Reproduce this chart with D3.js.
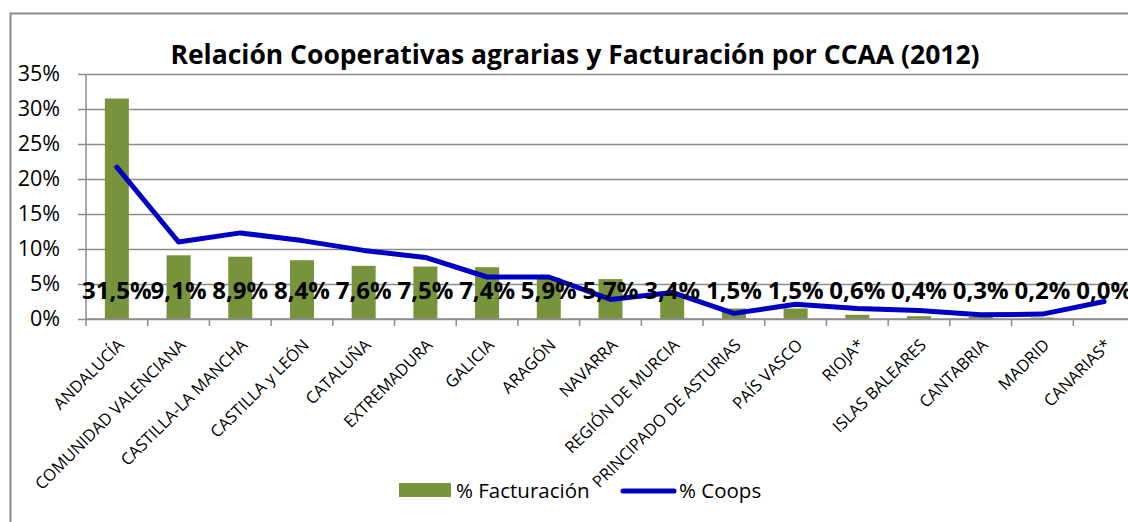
<!DOCTYPE html>
<html>
<head>
<meta charset="utf-8">
<script src="https://cdnjs.cloudflare.com/ajax/libs/d3/7.8.5/d3.min.js"></script>
<style>
body { margin: 0; background: #fff; }
svg { display: block; font-family: "Open Sans", sans-serif; }
.grid line { stroke: #8c8c8c; stroke-width: 1.5px; }
.tick text { fill: #000; }
</style>
</head>
<body>
<svg id="chart" width="1128" height="522"></svg>
<script>
// data
var regions = ["ANDALUCÍA", "COMUNIDAD VALENCIANA", "CASTILLA-LA MANCHA", "CASTILLA y LEÓN",
  "CATALUÑA", "EXTREMADURA", "GALICIA", "ARAGÓN", "NAVARRA", "REGIÓN DE MURCIA",
  "PRINCIPADO DE ASTURIAS", "PAÍS VASCO", "RIOJA*", "ISLAS BALEARES", "CANTABRIA",
  "MADRID", "CANARIAS*"];
var facturacion = [31.5, 9.1, 8.9, 8.4, 7.6, 7.5, 7.4, 5.9, 5.7, 3.4, 1.5, 1.5, 0.6, 0.4, 0.3, 0.2, 0.0];
var coops = [21.7, 11.0, 12.3, 11.2, 9.8, 8.8, 6.0, 6.0, 2.8, 3.8, 0.8, 2.1, 1.5, 1.2, 0.6, 0.7, 2.5];
var yTicks = [0, 5, 10, 15, 20, 25, 30, 35];

var svg = d3.select('#chart');
var pLeft = 86, pRight = 1135, pTop = 74, pBottom = 319;

var x = d3.scaleBand().domain(regions).range([pLeft, pRight]);
var y = d3.scaleLinear().domain([0, 35]).range([pBottom, pTop]);
var fmt = function(v){ return d3.format('.1f')(v).replace('.', ',') + '%'; };

// outer border
svg.append('rect')
  .attr('x', 10.5).attr('y', 13.5)
  .attr('width', 1140).attr('height', 530)
  .attr('fill', 'none').attr('stroke', '#8c8c8c').attr('stroke-width', 2);

// title
svg.append('text')
  .attr('x', 575).attr('y', 64)
  .attr('text-anchor', 'middle')
  .style('font-size', '26.5px').style('font-weight', 'bold')
  .text('Relación Cooperativas agrarias y Facturación por CCAA (2012)');

// y axis with gridlines
var yAxis = svg.append('g')
  .attr('class', 'grid')
  .attr('transform', 'translate(' + pLeft + ',0)')
  .call(d3.axisLeft(y).tickValues(yTicks).tickSize(-(pRight - pLeft)).tickPadding(26)
    .tickFormat(function(d){ return d + '%'; }));
yAxis.select('.domain').remove();
yAxis.selectAll('.tick line').attr('x1', -8);
yAxis.selectAll('.tick text').style('font-size', '21.5px').style('font-family', '"Open Sans", sans-serif');

svg.append('line')
  .attr('x1', pLeft).attr('x2', pLeft).attr('y1', pTop).attr('y2', pBottom)
  .attr('stroke', '#8c8c8c').attr('stroke-width', 1.5);

// x axis: ticks on category boundaries
var bounds = regions.map(function(r){ return x(r); }).concat([pRight]);
svg.append('g').selectAll('line').data(bounds).enter().append('line')
  .attr('x1', function(d){ return d; }).attr('x2', function(d){ return d; })
  .attr('y1', pBottom).attr('y2', pBottom + 7)
  .attr('stroke', '#8c8c8c').attr('stroke-width', 1.5);

svg.append('g').selectAll('text').data(regions).enter().append('text')
  .attr('transform', function(d){
    return 'translate(' + (x(d) + x.bandwidth() / 2 + 4) + ',' + (pBottom + 23) + ') rotate(-45)';
  })
  .attr('text-anchor', 'end')
  .attr('dy', '0.35em')
  .style('font-size', '16.5px')
  .text(function(d){ return d; });

// bars
var bw = 24;
svg.append('g').selectAll('rect').data(facturacion).enter().append('rect')
  .attr('x', function(d, i){ return x(regions[i]) + x.bandwidth() / 2 - bw / 2; })
  .attr('y', function(d){ return y(d); })
  .attr('width', bw)
  .attr('height', function(d){ return pBottom - y(d); })
  .attr('fill', '#77933c');

// x axis baseline
svg.append('line')
  .attr('x1', pLeft).attr('x2', pRight).attr('y1', pBottom).attr('y2', pBottom)
  .attr('stroke', '#8c8c8c').attr('stroke-width', 1.5);

// coops line
var line = d3.line()
  .x(function(d, i){ return x(regions[i]) + x.bandwidth() / 2; })
  .y(function(d){ return y(d); });
svg.append('path').datum(coops)
  .attr('d', line)
  .attr('fill', 'none')
  .attr('stroke', '#0000c4')
  .attr('stroke-width', 5)
  .attr('stroke-linejoin', 'round')
  .attr('stroke-linecap', 'round');

// data labels
svg.append('g').selectAll('text').data(facturacion).enter().append('text')
  .attr('x', function(d, i){ return x(regions[i]) + x.bandwidth() / 2; })
  .attr('y', 299)
  .attr('text-anchor', 'middle')
  .style('font-size', '24px').style('font-weight', 'bold')
  .text(fmt);

// legend
var legend = svg.append('g');
legend.append('rect')
  .attr('x', 399).attr('y', 483).attr('width', 52).attr('height', 14)
  .attr('fill', '#77933c');
legend.append('text')
  .attr('x', 456).attr('y', 498)
  .style('font-size', '20.5px')
  .text('% Facturación');
legend.append('line')
  .attr('x1', 623).attr('x2', 674).attr('y1', 491).attr('y2', 491)
  .attr('stroke', '#0000c4').attr('stroke-width', 5).attr('stroke-linecap', 'round');
legend.append('text')
  .attr('x', 679).attr('y', 498)
  .style('font-size', '20.5px')
  .text('% Coops');
</script>
</body>
</html>
